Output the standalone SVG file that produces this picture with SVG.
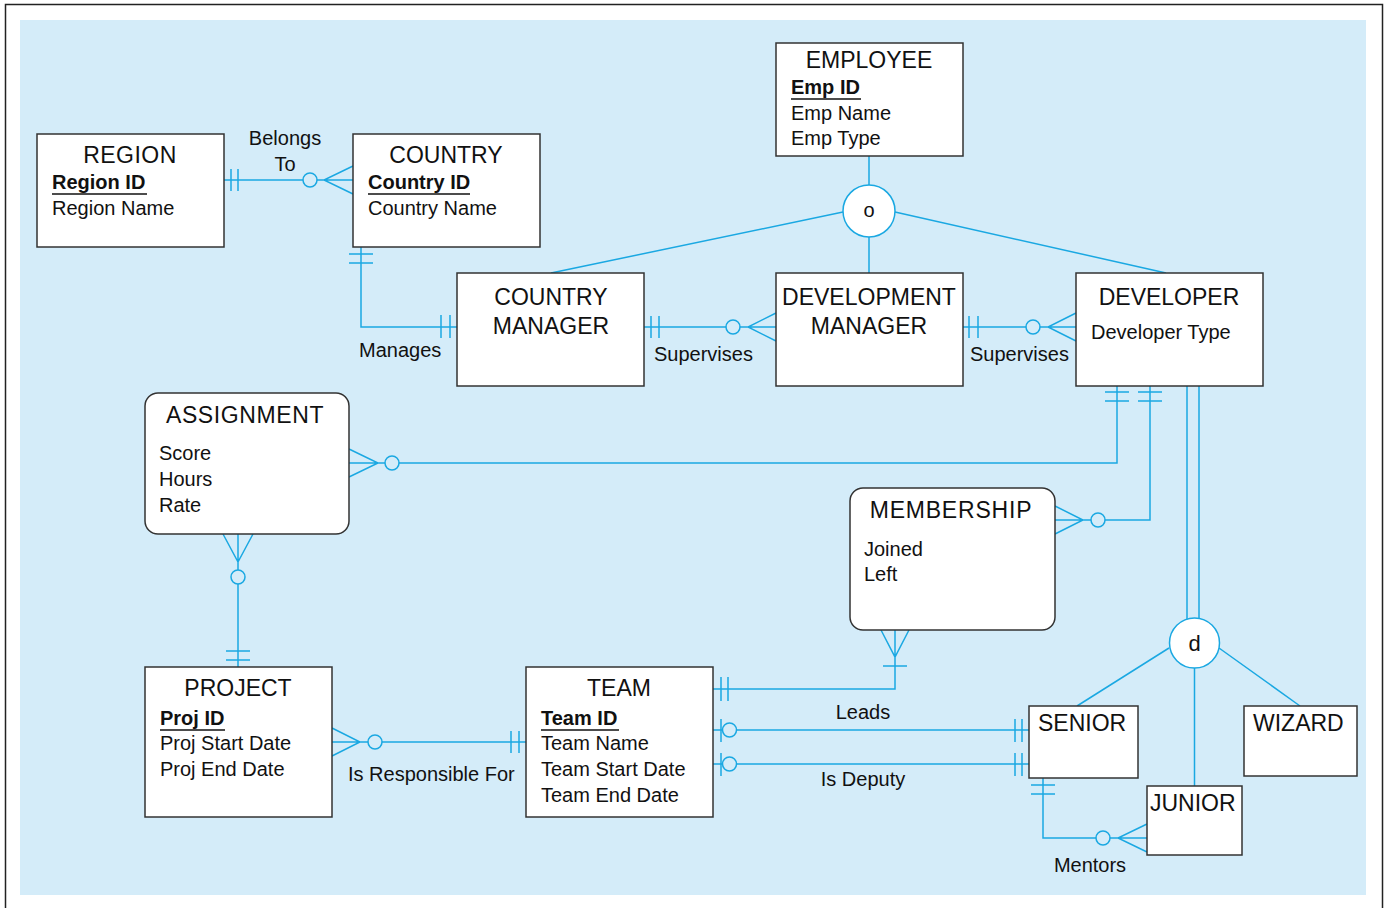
<svg xmlns="http://www.w3.org/2000/svg" width="1391" height="908" viewBox="0 0 1391 908">
<style>
.ent{fill:#fff;stroke:#333;stroke-width:1.5}
.t{font-family:"Liberation Sans",Arial,sans-serif;font-size:23px;fill:#111;text-anchor:middle}
.a{font-family:"Liberation Sans",Arial,sans-serif;font-size:20px;fill:#111}
.k{font-weight:bold}
.ul{stroke:#111;stroke-width:1.5}
.lbl{font-family:"Liberation Sans",Arial,sans-serif;font-size:20px;fill:#111}
.c{fill:none;stroke:#1aa8e2;stroke-width:1.5}
.o{fill:#d4ecf9;stroke:#1aa8e2;stroke-width:1.5}
.g{fill:#fff;stroke:#1aa8e2;stroke-width:1.5}
</style>
<rect x="5.5" y="4.5" width="1377" height="910" fill="#fff" stroke="#222" stroke-width="1.5"/>
<rect x="20" y="20" width="1346" height="875" fill="#d4ecf9"/>

<g id="connectors">
  <path class="c" d="M224 180H353M231 169V191M238 169V191M353 166L324 180L353 194"/>
  <circle class="o" cx="310" cy="180" r="7"/>
  <path class="c" d="M361 247V327H457M349 254H373M349 263H373M441 315V338M450 315V338"/>
  <path class="c" d="M644 327H776M651 316V338M659 316V338M776 313L748 327L776 341"/>
  <circle class="o" cx="733" cy="327" r="7"/>
  <path class="c" d="M963 327H1076M969 316V338M978 316V338M1076 313L1048 327L1076 341"/>
  <circle class="o" cx="1033" cy="327" r="7"/>
  <path class="c" d="M869 156V273M843 212L551 273M895 212L1166 273"/>
  <circle class="g" cx="869" cy="211" r="26"/>
  <path class="c" d="M1117 386V463H349M1105 392H1129M1105 401H1129M349 449L378 463L349 477"/>
  <circle class="o" cx="392" cy="463" r="7"/>
  <path class="c" d="M1150 386V520H1055M1138 392H1162M1138 401H1162M1055 506L1083 520L1055 534"/>
  <circle class="o" cx="1098" cy="520" r="7"/>
  <path class="c" d="M238 534V667M223 534L238 562L253 534M226 651H250M226 660H250"/>
  <circle class="o" cx="238" cy="577" r="7"/>
  <path class="c" d="M895 630V689H713M881 630L895 657L909 630M883 666H907M721 677V701M728 677V701"/>
  <path class="c" d="M713 730H1029M721 719V742M1015 719V742M1022 719V742"/>
  <circle class="o" cx="729.5" cy="730" r="7"/>
  <path class="c" d="M713 764H1029M721 753V776M1015 753V776M1022 753V776"/>
  <circle class="o" cx="729.5" cy="764" r="7"/>
  <path class="c" d="M332 742H526M332 728L360 742L332 756M511 731V753M519 731V753"/>
  <circle class="o" cx="375" cy="742" r="7"/>
  <path class="c" d="M1043 778V838H1147M1031 785H1055M1031 794H1055M1147 824L1118 838L1147 852"/>
  <circle class="o" cx="1103" cy="838" r="7"/>
  <path class="c" d="M1187 386V620M1199 386V620M1169 648L1077 706M1219 648L1300 706M1194.5 668V786"/>
  <circle class="g" cx="1194.5" cy="643" r="25"/>
  <text class="lbl" x="869" y="217" text-anchor="middle">o</text>
  <text class="t" x="1194.5" y="651" style="font-size:22px">d</text>
  <text class="lbl" x="285" y="145" text-anchor="middle">Belongs</text>
  <text class="lbl" x="285" y="171" text-anchor="middle">To</text>
  <text class="lbl" x="359" y="357">Manages</text>
  <text class="lbl" x="654" y="361">Supervises</text>
  <text class="lbl" x="970" y="361">Supervises</text>
  <text class="lbl" x="863" y="719" text-anchor="middle">Leads</text>
  <text class="lbl" x="863" y="786" text-anchor="middle">Is Deputy</text>
  <text class="lbl" x="348" y="781">Is Responsible For</text>
  <text class="lbl" x="1090" y="872" text-anchor="middle">Mentors</text>
</g>

<g id="region">
  <rect class="ent" x="37" y="134" width="187" height="113"/>
  <text class="t" x="130" y="163" style="letter-spacing:0.5px">REGION</text>
  <text class="a k" x="52" y="189">Region ID</text>
  <line class="ul" x1="52" y1="194" x2="147" y2="194"/>
  <text class="a" x="52" y="215">Region Name</text>
</g>
<g id="country">
  <rect class="ent" x="353" y="134" width="187" height="113"/>
  <text class="t" x="446" y="163">COUNTRY</text>
  <text class="a k" x="368" y="189">Country ID</text>
  <line class="ul" x1="368" y1="194" x2="470" y2="194"/>
  <text class="a" x="368" y="215">Country Name</text>
</g>
<g id="employee">
  <rect class="ent" x="776" y="43" width="187" height="113"/>
  <text class="t" x="869" y="68">EMPLOYEE</text>
  <text class="a k" x="791" y="94">Emp ID</text>
  <line class="ul" x1="791" y1="99" x2="861" y2="99"/>
  <text class="a" x="791" y="120">Emp Name</text>
  <text class="a" x="791" y="145">Emp Type</text>
</g>
<g id="country-manager">
  <rect class="ent" x="457" y="273" width="187" height="113"/>
  <text class="t" x="551" y="305">COUNTRY</text>
  <text class="t" x="551" y="334">MANAGER</text>
</g>
<g id="development-manager">
  <rect class="ent" x="776" y="273" width="187" height="113"/>
  <text class="t" x="869" y="305">DEVELOPMENT</text>
  <text class="t" x="869" y="334">MANAGER</text>
</g>
<g id="developer">
  <rect class="ent" x="1076" y="273" width="187" height="113"/>
  <text class="t" x="1169" y="305">DEVELOPER</text>
  <text class="a" x="1091" y="339">Developer Type</text>
</g>
<g id="assignment">
  <rect class="ent" x="145" y="393" width="204" height="141" rx="13"/>
  <text class="t" x="245" y="423" style="letter-spacing:0.6px">ASSIGNMENT</text>
  <text class="a" x="159" y="460">Score</text>
  <text class="a" x="159" y="486">Hours</text>
  <text class="a" x="159" y="512">Rate</text>
</g>
<g id="membership">
  <rect class="ent" x="850" y="488" width="205" height="142" rx="13"/>
  <text class="t" x="951" y="518" style="letter-spacing:0.8px">MEMBERSHIP</text>
  <text class="a" x="864" y="556">Joined</text>
  <text class="a" x="864" y="581">Left</text>
</g>
<g id="project">
  <rect class="ent" x="145" y="667" width="187" height="150"/>
  <text class="t" x="238" y="696">PROJECT</text>
  <text class="a k" x="160" y="725">Proj ID</text>
  <line class="ul" x1="160" y1="730" x2="225" y2="730"/>
  <text class="a" x="160" y="750">Proj Start Date</text>
  <text class="a" x="160" y="776">Proj End Date</text>
</g>
<g id="team">
  <rect class="ent" x="526" y="667" width="187" height="150"/>
  <text class="t" x="619" y="696">TEAM</text>
  <text class="a k" x="541" y="725">Team ID</text>
  <line class="ul" x1="541" y1="730" x2="619" y2="730"/>
  <text class="a" x="541" y="750">Team Name</text>
  <text class="a" x="541" y="776">Team Start Date</text>
  <text class="a" x="541" y="802">Team End Date</text>
</g>
<g id="senior">
  <rect class="ent" x="1029" y="706" width="109" height="72"/>
  <text class="t" x="1038" y="731" style="text-anchor:start">SENIOR</text>
</g>
<g id="wizard">
  <rect class="ent" x="1244" y="706" width="113" height="70"/>
  <text class="t" x="1253" y="731" style="text-anchor:start">WIZARD</text>
</g>
<g id="junior">
  <rect class="ent" x="1147" y="786" width="95" height="69"/>
  <text class="t" x="1150" y="811" style="text-anchor:start">JUNIOR</text>
</g>
</svg>
